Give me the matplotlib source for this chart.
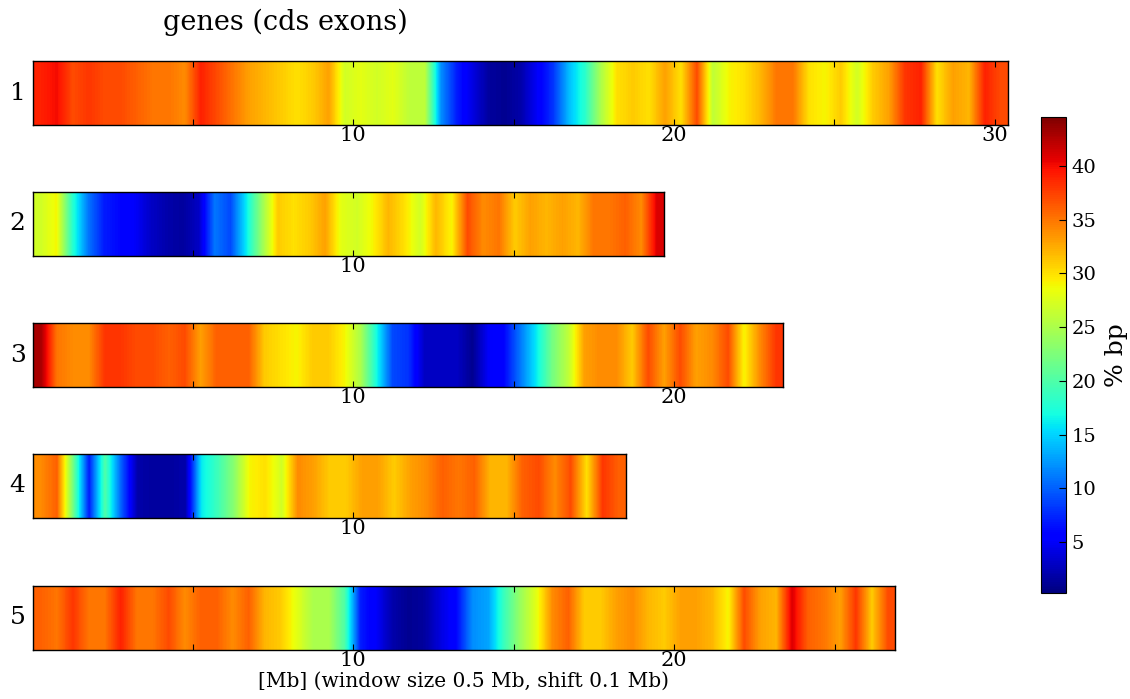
import numpy as np
import matplotlib
matplotlib.use('Agg')
import matplotlib.pyplot as plt

plt.rcParams['font.family'] = 'DejaVu Serif'

# chromosome names and lengths (Mb)
chrom_names = ['1', '2', '3', '4', '5']
chrom_lengths = [30.4, 19.7, 23.4, 18.5, 26.9]

# % bp covered by cds exons, one value per ~0.5 Mb along each chromosome
chr1_pct = [39, 40, 37, 38, 37, 37, 36, 35, 35, 34, 39, 37, 35, 33, 32, 31,
            30, 31, 33, 27, 28, 27, 28, 26, 26, 12, 7, 4, 1.5, 1, 2, 5,
            8, 14, 18, 25, 30, 31, 30, 33, 30, 37, 26, 29, 30, 32, 35, 35,
            30, 29, 31, 27, 31, 33, 38, 39, 30, 33, 32, 39, 37]
chr2_pct = [27, 29, 18, 11, 7, 6, 5, 3, 2, 1.5, 3, 11, 9, 16, 24, 31,
            30, 31, 33, 28, 27, 29, 32, 30, 27, 32, 29, 37, 34, 35, 31, 33,
            32, 33, 32, 35, 35, 36, 34, 41]
chr3_pct = [43, 35, 34, 34, 38, 38, 37, 37, 36, 37, 33, 36, 36, 36, 31, 30,
            29, 31, 31, 29, 25, 17, 9, 8, 3, 3, 3, 1, 5, 6, 11, 16,
            22, 26, 33, 34, 34, 31, 37, 33, 37, 33, 34, 37, 29, 34, 38]
chr4_pct = [34, 36, 22, 7, 20, 10, 2, 1.5, 1.5, 2, 16, 19, 23, 29, 30, 27,
            34, 33, 31, 31, 33, 33, 31, 33, 34, 36, 35, 36, 32, 32, 36, 37,
            34, 37, 30, 38, 36]
chr5_pct = [36, 35, 38, 35, 35, 39, 35, 35, 37, 34, 36, 36, 34, 36, 32, 31,
            28, 25, 25, 20, 7, 5, 2, 1, 1.5, 4, 6, 12, 13, 19, 24, 28,
            34, 36, 31, 31, 33, 34, 32, 31, 33, 33, 32, 29, 37, 33, 32, 41,
            36, 35, 33, 38, 31, 37]
chrom_pct = [chr1_pct, chr2_pct, chr3_pct, chr4_pct, chr5_pct]

cbar_ticks = [5, 10, 15, 20, 25, 30, 35, 40]
vmin, vmax = 0.25, 44.56

W, H = 1130, 699
fig = plt.figure(figsize=(W / 100, H / 100), dpi=100)

px_per_mb = 32.08
left_px = 32.5
row_tops = [61, 192, 323, 454, 586]
row_h = 64

for k, (name, length, vals) in enumerate(zip(chrom_names, chrom_lengths, chrom_pct)):
    top = row_tops[k]
    ax = fig.add_axes([left_px / W, 1 - (top + row_h) / H,
                       length * px_per_mb / W, row_h / H])
    im = ax.imshow(np.array(vals, dtype=float)[np.newaxis, :], aspect='auto',
                   cmap='jet', vmin=vmin, vmax=vmax, interpolation='bilinear',
                   extent=(0, length, 0, 1))
    ax.set_xlim(0, length)
    ax.set_ylim(0, 1)
    ax.set_yticks([])
    ticks = np.arange(5, length, 5)
    ax.set_xticks(ticks)
    ax.set_xticklabels(['%d' % t if t % 10 == 0 else '' for t in ticks])
    ax.tick_params(axis='x', direction='in', top=True, length=4,
                   labelsize=15, pad=1)
    ax.set_ylabel(name, rotation=0, fontsize=18, ha='right', va='center',
                  labelpad=5)
    for sp in ax.spines.values():
        sp.set_linewidth(1.0)
    if k == len(chrom_names) - 1:
        ax.set_xlabel('[Mb] (window size 0.5 Mb, shift 0.1 Mb)',
                      fontsize=14.5, labelpad=1)

fig.text(163 / W, 1 - 22 / H, 'genes (cds exons)', fontsize=19.5,
         ha='left', va='center')

cax = fig.add_axes([1041 / W, 1 - 593 / H, 25 / W, 476 / H])
cbar = fig.colorbar(im, cax=cax, ticks=cbar_ticks)
cbar.ax.tick_params(direction='in', length=5, labelsize=14, pad=4)
cbar.set_label('% bp', fontsize=18, labelpad=6)

fig.savefig('out.png', dpi=100)
